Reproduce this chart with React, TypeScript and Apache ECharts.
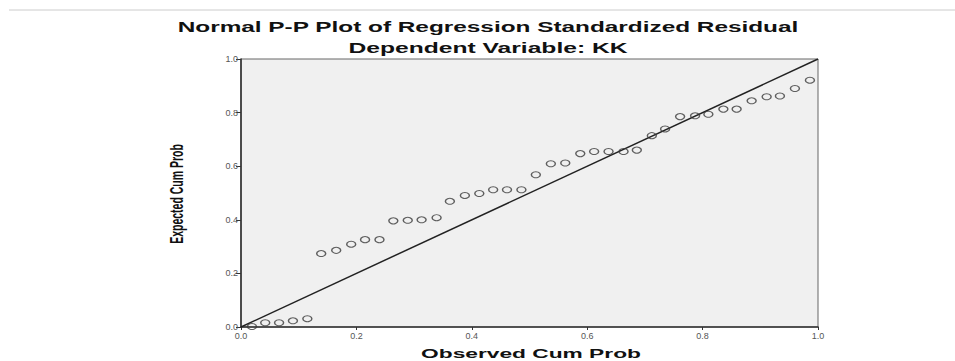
import React, { useEffect, useRef } from "react";
import * as echarts from "echarts";

const titleText = "Normal P-P Plot of Regression Standardized Residual";
const subtitleText = "Dependent Variable: KK";
const xAxisName = "Observed Cum Prob";
const yAxisName = "Expected Cum Prob";

const observedCumProb = [
  0.019, 0.042, 0.066, 0.09, 0.115, 0.139, 0.165, 0.191, 0.215, 0.24,
  0.264, 0.289, 0.313, 0.339, 0.362, 0.388, 0.413, 0.437, 0.461, 0.486,
  0.511, 0.537, 0.562, 0.588, 0.612, 0.637, 0.663, 0.686, 0.712, 0.735,
  0.761, 0.787, 0.81, 0.836, 0.859, 0.885, 0.911, 0.934, 0.96, 0.986,
];
const expectedCumProb = [
  0.002, 0.016, 0.016, 0.023, 0.031, 0.274, 0.286, 0.309, 0.326, 0.326,
  0.396, 0.398, 0.4, 0.408, 0.469, 0.491, 0.498, 0.512, 0.512, 0.512,
  0.568, 0.609, 0.612, 0.647, 0.655, 0.655, 0.655, 0.66, 0.714, 0.739,
  0.785, 0.788, 0.794, 0.813, 0.813, 0.844, 0.859, 0.862, 0.89, 0.921,
];
const referenceLine = [
  [0, 0],
  [1, 1],
];

const FONT = "'Liberation Sans', Arial, sans-serif";

export default function App() {
  const ref = useRef<HTMLDivElement>(null);

  useEffect(() => {
    if (!ref.current) return;
    const chart = echarts.init(ref.current, undefined, { renderer: "svg" });
    const points = observedCumProb.map((x, i) => [x, expectedCumProb[i]]);
    chart.setOption({
      animation: false,
      backgroundColor: "#ffffff",
      grid: {
        left: 241,
        right: 137,
        top: 59,
        bottom: 34,
        show: true,
        backgroundColor: "#f0f0f0",
        borderColor: "#666",
        borderWidth: 1,
      },
      xAxis: {
        type: "value",
        min: 0,
        max: 1,
        interval: 0.2,
        axisLine: { show: true, onZero: false, lineStyle: { color: "#333", width: 1.6 } },
        axisTick: { show: true, length: 3, lineStyle: { color: "#333" } },
        axisLabel: {
          color: "#555",
          fontSize: 9,
          fontFamily: FONT,
          margin: 4,
          formatter: (v: number) => v.toFixed(1),
        },
        splitLine: { show: false },
      },
      yAxis: {
        type: "value",
        min: 0,
        max: 1,
        interval: 0.2,
        axisLine: { show: true, onZero: false, lineStyle: { color: "#333", width: 1.6 } },
        axisTick: { show: true, length: 5, lineStyle: { color: "#333" } },
        axisLabel: {
          color: "#555",
          fontSize: 9,
          fontFamily: FONT,
          margin: 3,
          formatter: (v: number) => v.toFixed(1),
        },
        splitLine: { show: false },
      },
      series: [
        {
          type: "line",
          data: referenceLine,
          showSymbol: false,
          lineStyle: { color: "#222", width: 1.5 },
          silent: true,
          z: 2,
        },
        {
          type: "scatter",
          data: points,
          symbol: "circle",
          symbolSize: [9, 6],
          itemStyle: { color: "rgba(0,0,0,0)", borderColor: "#3a3a3a", borderWidth: 1.2 },
          z: 3,
        },
      ],
      graphic: [
        {
          type: "line",
          shape: { x1: 9, y1: 10, x2: 955, y2: 10 },
          style: { stroke: "#cccccc", lineWidth: 1 },
        },
        {
          type: "text",
          x: 488,
          y: 27,
          scaleX: 1.74,
          style: {
            text: titleText,
            fontSize: 14,
            fontWeight: "bold",
            fontFamily: FONT,
            fill: "#111",
            align: "center",
            verticalAlign: "middle",
          },
        },
        {
          type: "text",
          x: 488,
          y: 48,
          scaleX: 1.76,
          style: {
            text: subtitleText,
            fontSize: 14,
            fontWeight: "bold",
            fontFamily: FONT,
            fill: "#111",
            align: "center",
            verticalAlign: "middle",
          },
        },
        {
          type: "text",
          x: 531,
          y: 353,
          scaleX: 1.75,
          style: {
            text: xAxisName,
            fontSize: 13,
            fontWeight: "bold",
            fontFamily: FONT,
            fill: "#111",
            align: "center",
            verticalAlign: "middle",
          },
        },
        {
          type: "text",
          x: 177,
          y: 194,
          rotation: Math.PI / 2,
          scaleY: 1.7,
          style: {
            text: yAxisName,
            fontSize: 10.5,
            fontWeight: "bold",
            fontFamily: FONT,
            fill: "#111",
            align: "center",
            verticalAlign: "middle",
          },
        },
      ],
    });
    return () => chart.dispose();
  }, []);

  return (
    <div
      ref={ref}
      style={{ position: "fixed", left: 0, top: 0, width: 955, height: 361 }}
    />
  );
}
